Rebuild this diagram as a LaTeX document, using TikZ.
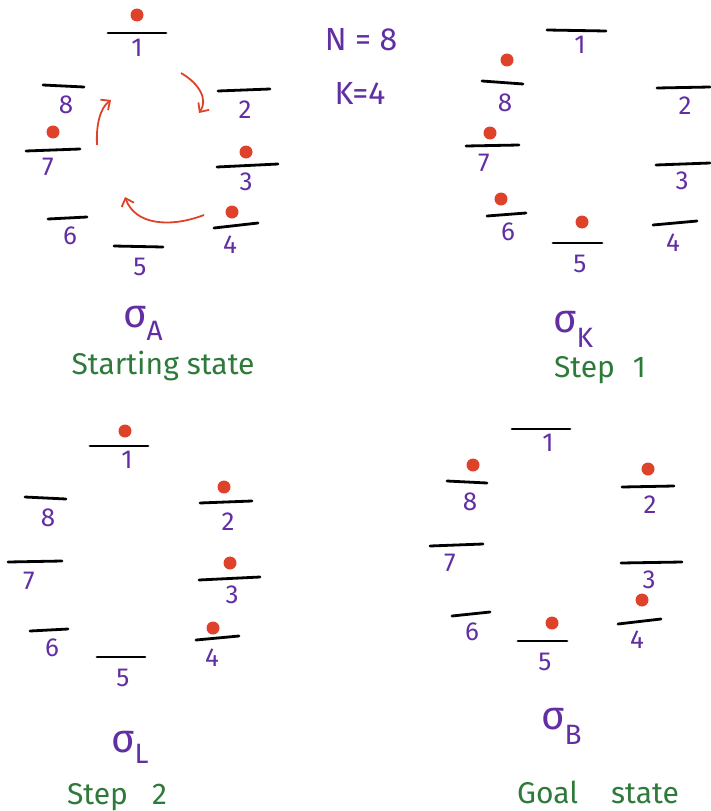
\documentclass[tikz,border=0pt]{standalone}
\usepackage{fontspec}
\setmainfont{Fira Sans}
\usepackage{tikz}
\usetikzlibrary{arrows.meta}
\definecolor{inkPurple}{RGB}{98,46,163}
\definecolor{inkRed}{RGB}{222,66,42}
\definecolor{inkGreen}{RGB}{46,122,58}

\begin{document}
\begin{tikzpicture}[x=1pt, y=-1pt,
  slot/.style={line width=2.8pt, line cap=round, black},
  num/.style={text=inkPurple, font=\fontsize{26}{28}\selectfont, inner sep=0pt},
  bignum/.style={num, font=\fontsize{32}{34}\selectfont},
  ball/.style={circle, fill=inkRed, minimum size=13pt, inner sep=0pt},
  sig/.style={text=inkPurple, font=\fontsize{40}{42}\selectfont, anchor=base west, inner sep=0pt},
  caption/.style={text=inkGreen, font=\fontsize{30}{32}\selectfont, inner sep=0pt},
  move/.style={->, inkRed, line width=1.8pt, >={Straight Barb[length=7pt,width=13pt]}}]

  \useasboundingbox (0,0) rectangle (710,811);

  % starting state
  \foreach \n/\xa/\ya/\xb/\yb/\lx/\ly in {1/108/33/166/33/137/48, 2/218/91/270/89/245/110,
      3/217/167/278/164/246/182, 4/214/228/258/223/230/245, 5/114/246/163/247/140/267,
      6/48/219/87/217/70/236, 7/26/151/80/149/48/167, 8/43/85/84/87/66/105}{
    \draw[slot] (\xa,\ya) -- (\xb,\yb);
    \node[num] (A\n) at (\lx,\ly) {\n};
  }
  \foreach \n/\x/\y in {1/137/15, 3/246/152, 4/232/212, 7/53/132}
    \node[ball] (Aball\n) at (\x,\y) {};

  \coordinate (t1a) at (181,73);  \coordinate (t1b) at (199,113);
  \coordinate (t2a) at (97,145);  \coordinate (t2b) at (111,100);
  \coordinate (t3a) at (204,215); \coordinate (t3b) at (125,197);
  \draw[move] (t1a) .. controls (200,84) and (208,100) .. (t1b);
  \draw[move] (t2a) .. controls (96,125) and (100,108) .. (t2b);
  \draw[move] (t3a) .. controls (170,228) and (135,225) .. (t3b);

  \node[sig] (sigA) at (123,327) {σ\raisebox{-13pt}{\fontsize{28}{30}\selectfont A}};
  \node[caption] (capA) at (163,366) {Starting state};

  \node[bignum] (nval) at (361,40) {N = 8};
  \node[bignum] (kval) at (360,93) {K=4};

  % step 1
  \foreach \n/\xa/\ya/\xb/\yb/\lx/\ly in {1/547/30/606/31/580/45, 2/657/88/710/87/685/106,
      3/656/165/710/163/682/181, 4/653/225/697/221/673/243, 5/553/243/602/243/580/264,
      6/487/216/526/213/508/232, 7/466/146/519/145/484/163, 8/482/81/523/84/505/103}{
    \draw[slot] (\xa,\ya) -- (\xb,\yb);
    \node[num] (K\n) at (\lx,\ly) {\n};
  }
  \foreach \n/\x/\y in {8/507/60, 7/490/133, 6/501/199, 5/582/222}
    \node[ball] (Kball\n) at (\x,\y) {};

  \node[sig] (sigK) at (553,332) {σ\raisebox{-15pt}{\fontsize{28}{30}\selectfont K}};
  \node[caption] (capK) at (600,370) {Step\hspace{0.6em}1};

  % step 2
  \foreach \n/\xa/\ya/\xb/\yb/\lx/\ly in {1/90/446/148/446/127/460, 2/200/503/252/501/228/522,
      3/199/580/260/577/232/595, 4/196/640/239/636/212/658, 5/97/657/145/657/123/678,
      6/30/631/68/629/52/648, 7/8/562/62/561/29/581, 8/25/497/66/499/48/518}{
    \draw[slot] (\xa,\ya) -- (\xb,\yb);
    \node[num] (L\n) at (\lx,\ly) {\n};
  }
  \foreach \n/\x/\y in {1/125/431, 2/224/487, 3/230/563, 4/213/628}
    \node[ball] (Lball\n) at (\x,\y) {};

  \node[sig] (sigL) at (111,752) {σ\raisebox{-11pt}{\fontsize{28}{30}\selectfont L}};
  \node[caption] (capL) at (117,797) {Step\hspace{0.8em}2};

  % goal state
  \foreach \n/\xa/\ya/\xb/\yb/\lx/\ly in {1/512/429/570/429/548/443, 2/622/487/674/486/650/505,
      3/621/563/682/562/649/580, 4/618/624/661/619/637/640, 5/518/641/567/641/545/662,
      6/452/616/490/612/472/632, 7/430/546/483/544/450/563, 8/447/481/487/483/470/502}{
    \draw[slot] (\xa,\ya) -- (\xb,\yb);
    \node[num] (B\n) at (\lx,\ly) {\n};
  }
  \foreach \n/\x/\y in {8/473/465, 2/648/469, 5/552/623, 4/642/600}
    \node[ball] (Bball\n) at (\x,\y) {};

  \node[sig] (sigB) at (541,729) {σ\raisebox{-15pt}{\fontsize{28}{30}\selectfont B}};
  \node[caption] (capB) at (598,792) {Goal\hspace{1.1em}state};
\end{tikzpicture}
\end{document}
